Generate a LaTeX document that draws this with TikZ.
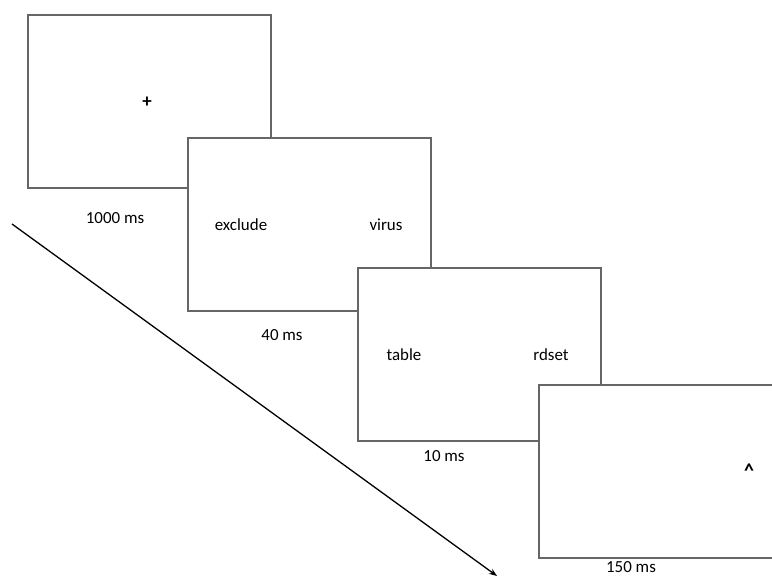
\documentclass[tikz,border=0pt]{standalone}
\usepackage{fontspec}
\setmainfont{Carlito}
\usetikzlibrary{arrows.meta}

\begin{document}
\begin{tikzpicture}
	[x=1bp, y=-1bp,
	screen/.style={draw=gray!80!black, line width=1.7bp, fill=white, anchor=north west,
		minimum width=243bp, minimum height=173bp, inner sep=0pt},
	word/.style={font=\fontsize{17}{20}\selectfont, inner sep=0pt},
	time/.style={->,>={Stealth[length=8bp, width=6bp]}, line width=1.3bp}]

	\useasboundingbox (0,0) rectangle (772,577);
	\clip (0,0) rectangle (772,577);

	% Fixation screen
	\node[screen] (S1) at (27,14) {};
	\node[word, font=\fontsize{19}{20}\selectfont\bfseries] (fix) at (147,102) {+};
	\node[word] (d1) at (115,218) {1000 ms};

	% Prime screen
	\node[screen] (S2) at (187,137) {};
	\node[word] (p1) at (241,225) {exclude};
	\node[word] (p2) at (386,225) {virus};
	\node[word] (d2) at (282,335) {40 ms};

	% Target screen
	\node[screen] (S3) at (357,267) {};
	\node[word] (t1) at (404,355) {table};
	\node[word] (t2) at (551,355) {rdset};
	\node[word] (d3) at (444,456) {10 ms};

	% Mask screen
	\node[screen] (S4) at (538,384) {};
	\node[word, font=\fontsize{20}{20}\selectfont\bfseries] (mask) at (749,471) {\^{}};
	\node[word] (d4) at (631,567) {150 ms};

	% Draw time axis
	\coordinate (T0) at (12,224);
	\coordinate (T1) at (497,576);
	\draw[time] (T0) -- (T1);

\end{tikzpicture}
\end{document}
